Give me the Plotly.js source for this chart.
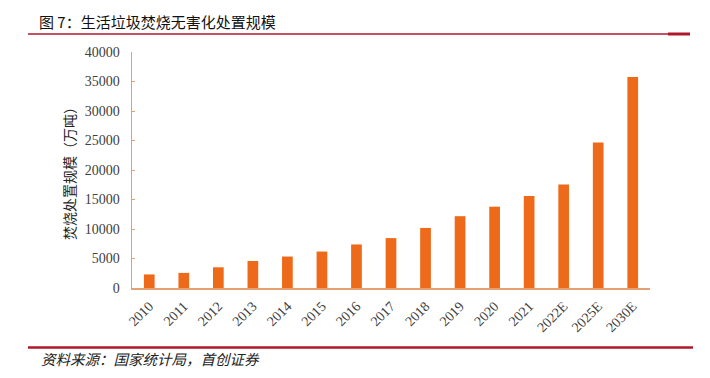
<!DOCTYPE html>
<html>
<head>
<meta charset="utf-8">
<script src="https://cdn.plot.ly/plotly-3.0.1.min.js"></script>
<style>
html,body{margin:0;padding:0;background:#fff;}
#chart{width:710px;height:378px;}
</style>
</head>
<body>
<div id="chart"></div>
<script>
const categories = ["2010","2011","2012","2013","2014","2015","2016","2017","2018","2019","2020","2021","2022E","2025E","2030E"];
const values = [2300, 2560, 3510, 4580, 5330, 6180, 7380, 8460, 10180, 12170, 13780, 15580, 17540, 24650, 35750];
const titleText = "图 7：生活垃圾焚烧无害化处置规模";
const yTitle = "焚烧处置规模（万吨）";
const sourceText = "资料来源：国家统计局，首创证券";
const yTicks = [0,5000,10000,15000,20000,25000,30000,35000,40000];

const axisColor = "#E3A070";
const barColor = "#EC6A19";
const cjk = "'Noto Sans CJK SC', sans-serif";
const serif = "'Liberation Serif', 'Times New Roman', serif";

const trace = {
  type: "bar",
  x: categories,
  y: values,
  marker: {color: barColor},
  hoverinfo: "x+y"
};

const layout = {
  width: 710, height: 378,
  margin: {l: 132, r: 60, t: 52, b: 90},
  paper_bgcolor: "#fff", plot_bgcolor: "#fff",
  showlegend: false,
  bargap: 0.69,
  xaxis: {
    type: "category",
    showline: true, linecolor: axisColor, linewidth: 1.5,
    ticks: "", showgrid: false, zeroline: false,
    tickangle: -45,
    ticklabelstandoff: 3,
    tickfont: {family: serif, size: 14, color: "#404040"}
  },
  yaxis: {
    range: [0, 40000],
    tickvals: yTicks,
    ticktext: yTicks.map(String),
    showline: true, linecolor: axisColor, linewidth: 1.5,
    ticks: "inside", ticklen: 3, tickcolor: axisColor,
    showgrid: false, zeroline: false,
    ticklabelstandoff: 8,
    tickfont: {family: serif, size: 14, color: "#404040"},
    title: {text: yTitle, font: {family: cjk, size: 14, color: "#222"}, standoff: 6}
  },
  shapes: [
    {type: "line", xref: "paper", yref: "paper", x0: -104/518, x1: (668-132)/518, y0: (288-34)/236, y1: (288-34)/236, line: {color: "#B0182A", width: 1.5}},
    {type: "line", xref: "paper", yref: "paper", x0: (668-132)/518, x1: (690-132)/518, y0: (288-34)/236, y1: (288-34)/236, line: {color: "#B0182A", width: 3}},
    {type: "line", xref: "paper", yref: "paper", x0: -104/518, x1: (693-132)/518, y0: (288-347.5)/236, y1: (288-347.5)/236, line: {color: "#B0182A", width: 2.5}}
  ],
  annotations: [
    {text: titleText, xref: "paper", yref: "paper", x: (37-132)/518, y: (288-22)/236, xanchor: "left", yanchor: "middle", showarrow: false, font: {family: cjk, size: 15, color: "#111"}},
    {text: "<i>" + sourceText + "</i>", xref: "paper", yref: "paper", x: (39-132)/518, y: (288-358)/236, xanchor: "left", yanchor: "middle", showarrow: false, font: {family: cjk, size: 14.5, color: "#222"}}
  ]
};

Plotly.newPlot("chart", [trace], layout, {displayModeBar: false, staticPlot: true});
</script>
</body>
</html>
